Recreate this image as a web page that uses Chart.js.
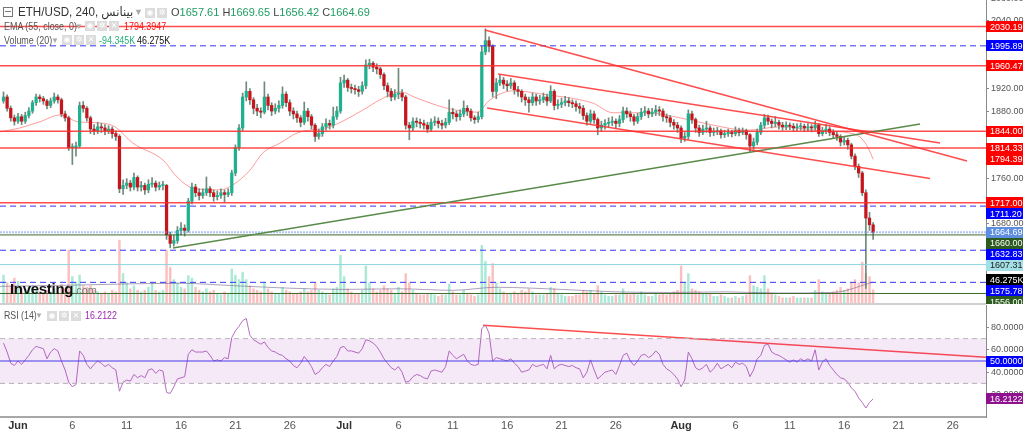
<!DOCTYPE html>
<html><head><meta charset="utf-8">
<script src="https://cdn.jsdelivr.net/npm/chart.js@4.4.0/dist/chart.umd.min.js"></script>
<style>
html,body{margin:0;padding:0;background:#fff;}
#wrap{position:relative;width:1024px;height:431px;overflow:hidden;font-family:"Liberation Sans",Arial,"DejaVu Sans",sans-serif;}
.sep{position:absolute;left:0;width:986px;top:303px;height:2px;background:#cfcfcf;}
.t{position:absolute;white-space:nowrap;line-height:1;transform-origin:0 0;}
.n9{transform:scaleX(0.85);}
.n85{transform:scaleX(0.8);}
.ic{position:absolute;width:10px;height:10px;background:#dcdcdc;color:#fff;font-size:8px;text-align:center;line-height:10px;font-family:"DejaVu Sans",sans-serif;}
.k{color:#444}.g{color:#1f9d63}
</style></head>
<body>
<div id="wrap">
<canvas id="cMain" width="1024" height="304" style="position:absolute;left:0;top:0"></canvas>
<canvas id="cRsi" width="1024" height="126" style="position:absolute;left:0;top:305px"></canvas>
<div class="sep"></div>

<div class="t" style="left:3px;top:7px;width:8px;height:8px;border:1px solid #777;"></div>
<div class="t" style="left:5px;top:11px;width:6px;height:1px;background:#777;"></div>
<div class="t" style="left:18px;top:6px;font-size:12.5px;color:#333;transform:scaleX(0.93);" dir="ltr">ETH/USD, 240, بينانس</div>
<div class="t" style="left:134px;top:8px;font-size:9px;color:#aaa;">▼</div>
<div class="ic" style="left:145px;top:8px;">◉</div>
<div class="ic" style="left:157px;top:8px;">✲</div>
<div class="t" style="left:171px;top:7px;font-size:11px;"><span class="k">O</span><span class="g">1657.61</span>&nbsp;<span class="k">H</span><span class="g">1669.65</span>&nbsp;<span class="k">L</span><span class="g">1656.42</span>&nbsp;<span class="k">C</span><span class="g">1664.69</span></div>

<div class="t n9" style="left:4px;top:21px;font-size:10.5px;color:#555;">EMA (55, close, 0)</div>
<div class="t" style="left:75px;top:23px;font-size:8px;color:#aaa;">▼</div>
<div class="ic" style="left:85px;top:21px;">◉</div>
<div class="ic" style="left:97px;top:21px;">✲</div>
<div class="ic" style="left:109px;top:21px;">✕</div>
<div class="t n9" style="left:124px;top:21px;font-size:10.5px;color:#ff1010;">1794.3947</div>

<div class="t n9" style="left:4px;top:35px;font-size:10.5px;color:#555;">Volume (20)</div>
<div class="t" style="left:51px;top:37px;font-size:8px;color:#aaa;">▼</div>
<div class="ic" style="left:62px;top:35px;">◉</div>
<div class="ic" style="left:74px;top:35px;">✲</div>
<div class="ic" style="left:86px;top:35px;">✕</div>
<div class="t n9" style="left:99px;top:35px;font-size:10.5px;color:#26b07a;">-94.345K</div>
<div class="t n9" style="left:137px;top:35px;font-size:10.5px;color:#111;">46.275K</div>

<div class="t" style="left:10px;top:281px;font-size:15px;font-weight:bold;color:#111;letter-spacing:-0.3px;">Investing<span style="font-size:11px;font-weight:normal;color:#777;letter-spacing:0;">.com</span></div>

<div class="t n85" style="left:4px;top:310px;font-size:11px;color:#555;">RSI (14)</div>
<div class="t" style="left:35px;top:312px;font-size:8px;color:#aaa;">▼</div>
<div class="ic" style="left:47px;top:311px;">◉</div>
<div class="ic" style="left:59px;top:311px;">✲</div>
<div class="ic" style="left:71px;top:311px;">✕</div>
<div class="t n85" style="left:85px;top:310px;font-size:11px;color:#9c27b0;">16.2122</div>
</div>

<script>
// ---- DATA (8-hour candles, day 0 = 1 Jun) ----
const startDay = -4/3;
const stepDay = 1/3;
const firstOpen = 1898;
const closes = [
1905,1885,1868,1862,1870,1862,1872,1880,1895,1905,
1902,1898,1890,1898,1905,1900,1875,1868,1815,1815,
1818,1890,1885,1868,1848,1845,1852,1850,1845,1848,
1840,1835,1742,1748,1752,1745,1762,1745,1748,1740,
1750,1752,1745,1748,1748,1660,1645,1650,1668,1672,
1668,1720,1745,1735,1730,1735,1742,1735,1728,1730,
1735,1732,1735,1770,1815,1850,1905,1915,1900,1885,
1880,1878,1905,1890,1880,1885,1890,1910,1895,1880,
1875,1868,1860,1880,1870,1855,1835,1840,1852,1858,
1855,1870,1880,1930,1935,1922,1920,1918,1915,1925,
1962,1965,1958,1955,1945,1925,1915,1905,1910,1912,
1905,1855,1850,1862,1860,1858,1855,1848,1860,1862,
1858,1855,1860,1878,1875,1870,1875,1885,1880,1868,
1865,1870,1985,2005,1995,1915,1930,1935,1928,1925,
1930,1918,1915,1905,1900,1895,1905,1898,1900,1905,
1898,1915,1890,1892,1895,1898,1895,1893,1888,1885,
1872,1862,1875,1865,1850,1855,1858,1860,1862,1858,
1865,1880,1875,1870,1862,1870,1878,1880,1875,1878,
1882,1880,1870,1868,1860,1855,1850,1832,1835,1875,
1865,1850,1842,1848,1850,1842,1843,1845,1838,1840,
1842,1840,1845,1842,1845,1838,1818,1825,1842,1855,
1868,1862,1858,1860,1855,1852,1855,1853,1850,1852,
1853,1850,1852,1850,1855,1840,1845,1848,1842,1838,
1835,1825,1828,1820,1800,1782,1770,1735,1690,1678,
1664.69];
const highs = [
1914,1909,1889,1873,1876,1874,1878,1886,1899,1910,
1909,1906,1901,1903,1912,1909,1903,1880,1871,1822,
1825,1896,1897,1888,1871,1856,1860,1858,1856,1854,
1852,1845,1838,1758,1760,1757,1770,1765,1755,1752,
1758,1762,1756,1754,1755,1750,1665,1660,1675,1682,
1678,1725,1752,1750,1742,1742,1763,1746,1740,1738,
1742,1740,1742,1775,1820,1856,1912,1932,1920,1904,
1892,1886,1932,1910,1895,1893,1898,1923,1914,1900,
1886,1880,1872,1896,1885,1874,1858,1848,1858,1866,
1864,1887,1888,1940,1944,1938,1928,1926,1924,1932,
1971,1972,1968,1964,1958,1948,1930,1920,1918,1956,
1918,1908,1860,1868,1868,1866,1864,1860,1866,1870,
1868,1864,1867,1900,1885,1880,1882,1898,1890,1884,
1872,1878,1995,2026,2012,1998,1938,1944,1940,1934,
1938,1934,1924,1918,1910,1905,1912,1910,1908,1912,
1910,1925,1918,1900,1903,1906,1904,1900,1898,1894,
1890,1877,1882,1880,1868,1862,1865,1868,1870,1866,
1872,1887,1886,1880,1874,1876,1885,1888,1885,1885,
1890,1888,1884,1875,1872,1865,1860,1854,1842,1882,
1880,1868,1855,1855,1862,1854,1850,1851,1848,1846,
1848,1846,1852,1850,1850,1848,1840,1832,1848,1860,
1874,1873,1866,1870,1864,1860,1861,1859,1858,1858,
1859,1857,1858,1856,1862,1858,1851,1856,1852,1847,
1843,1838,1834,1832,1823,1804,1786,1773,1740,1700,
1682];
const lows = [
1894,1880,1862,1855,1858,1856,1858,1868,1876,1890,
1896,1892,1884,1886,1894,1894,1870,1862,1810,1785,
1800,1815,1878,1862,1840,1838,1840,1842,1838,1840,
1832,1828,1735,1732,1742,1738,1740,1738,1738,1732,
1735,1745,1738,1740,1740,1652,1637,1640,1645,1660,
1658,1665,1715,1728,1722,1725,1730,1728,1720,1722,
1725,1718,1728,1730,1765,1810,1845,1898,1892,1875,
1872,1868,1875,1882,1872,1875,1878,1885,1888,1872,
1866,1860,1852,1856,1862,1848,1826,1830,1835,1846,
1848,1850,1865,1876,1922,1915,1912,1910,1906,1910,
1920,1955,1950,1946,1938,1918,1905,1898,1900,1902,
1898,1848,1829,1845,1852,1850,1848,1842,1844,1854,
1850,1848,1850,1856,1866,1862,1864,1870,1872,1862,
1858,1860,1866,1980,1985,1905,1902,1925,1920,1916,
1920,1910,1906,1896,1890,1878,1890,1890,1892,1895,
1890,1895,1882,1884,1886,1889,1888,1886,1880,1876,
1865,1855,1858,1858,1838,1844,1848,1852,1854,1850,
1852,1860,1868,1862,1855,1858,1865,1872,1868,1870,
1872,1872,1862,1860,1852,1848,1842,1824,1826,1830,
1858,1842,1835,1838,1842,1835,1836,1838,1832,1833,
1835,1834,1836,1836,1838,1830,1808,1812,1820,1838,
1850,1856,1850,1852,1848,1846,1847,1847,1844,1845,
1846,1844,1845,1843,1846,1835,1836,1840,1836,1832,
1828,1818,1820,1812,1795,1776,1762,1730,1565,1668,
1652];
const volumes = [
95,70,60,85,75,50,45,55,60,45,
40,35,45,40,50,40,65,50,177,90,
70,95,60,55,60,45,40,35,40,35,
45,40,210,100,70,50,60,45,40,45,
55,70,45,40,45,177,120,80,70,55,
50,93,85,55,45,40,50,40,45,35,
30,40,35,115,95,80,105,80,60,50,
45,40,70,50,40,35,35,55,45,40,
35,35,40,50,40,45,70,45,40,35,
30,50,55,160,90,50,40,35,35,45,
125,70,50,40,45,60,50,45,35,55,
40,100,70,45,35,30,30,35,35,30,
25,30,30,65,40,30,30,45,35,30,
25,30,193,140,90,133,70,50,40,35,
35,40,35,45,40,50,40,30,30,30,
35,55,50,35,30,25,25,25,30,30,
45,40,45,35,60,40,30,25,25,30,
30,50,35,30,35,30,40,30,25,25,
35,30,35,30,35,40,45,125,70,100,
50,45,40,35,35,35,25,25,30,25,
20,20,25,20,25,30,93,60,55,50,
93,50,35,30,25,20,20,20,25,20,
20,20,20,20,45,80,40,35,35,40,
45,55,45,50,70,80,70,137,100,90,
46.275];
const rsiValues = [
66,58,48,46,50,47,51,55,60,63,
62,61,52,58,61,59,50,42,31,27,
29,59,55,47,43,47,50,48,45,47,
44,42,23,31,33,32,38,35,37,35,
42,43,39,42,41,22,21,27,34,35,
36,56,60,58,58,58,59,55,50,51,
50,53,52,71,77,81,86,88,73,69,
67,65,67,62,59,58,56,55,52,50,
46,44,48,54,50,45,38,40,44,47,
45,50,54,62,63,59,59,58,57,61,
69,68,66,63,58,52,48,44,42,45,
40,31,32,36,38,37,35,34,41,42,
41,40,45,59,55,52,54,56,50,47,
46,47,79,82,75,50,53,52,51,50,
52,48,45,40,41,42,47,45,46,47,
43,55,43,46,47,46,45,46,44,43,
35,40,51,42,34,37,40,41,42,38,
46,55,57,50,46,50,55,56,53,55,
59,56,47,43,41,38,34,27,33,58,
52,44,42,44,47,40,43,48,43,45,
47,44,49,47,48,45,36,42,52,55,
64,65,58,56,55,53,51,49,51,49,
52,50,52,50,60,42,49,52,46,42,
38,35,34,31,26,23,17,13,8,13,
16.2122];
// EMA(55) read at points [day, price]
const emaPoints = [[-1.66,1843],[0.18,1850],[2.02,1861],[3.86,1873],[5.52,1861],[7.54,1859],[8.92,1852],[10.58,1823],[13.34,1793],[14.63,1763],[16.1,1743],[18.58,1740],[19.78,1749],[21.34,1775],[22.54,1806],[24.1,1823],[25.67,1841],[28.7,1852],[31.74,1882],[33.3,1900],[35.14,1914],[36.7,1903],[39.47,1885],[42.23,1878],[43.42,1900],[45.54,1916],[48.67,1909],[51.7,1900],[52.9,1894],[54.74,1877],[57.87,1877],[60.9,1868],[63.94,1855],[67.07,1846],[70.1,1852],[73.8,1845],[76.5,1841],[77.46,1834],[78.2,1815],[78.67,1794.39]];
const volMaPoints = [[-1.66,58],[5,62],[10,66],[15,68],[20,60],[25,52],[30,48],[35,50],[40,45],[44,55],[50,48],[55,40],[60,38],[65,40],[70,36],[75,38],[78.67,72]];
// drawings
const redLevels = [2030.19, 1960.47, 1844.00, 1814.33, 1717.00];
const blueLevels = [1995.89, 1711.20, 1632.83, 1575.78];
const greenLevels = [1660.00, 1556.00];
const cyanLevel = 1607.31;
const emaLast = 1794.39;
const trendRed = [[[42.96,2024],[87.3,1791.4]], [[44.16,1945.9],[84.82,1823.3]], [[43.15,1885.5],[83.9,1760.4]]];
const trendGreen = [[14.26,1636.8],[82.98,1857]];
const rsiTrend = [[42.78,81.9],[89.05,53.3]];
const rsiBand = [30, 70];
const rsiMid = 50;
// axes
const X_MIN = -1.656, X_MAX = 89.05;
const PRICE_MIN = 1537.3, PRICE_MAX = 2077.3;
const priceTicks = [2080, 2040, 1920, 1880, 1760, 1680];
const rsiTicks = [20, 40, 60, 80];
const tickDays = [0,5,10,15,20,25,30,35,40,45,50,55,61,66,71,76,81,86];
const tickLabels = ["Jun","6","11","16","21","26","Jul","6","11","16","21","26","Aug","6","11","16","21","26"];
const lastVolume = 46.275;

// ---- derived ----
const FONT = '"Liberation Sans", Arial, sans-serif';
const days = closes.map((_, i) => startDay + i * stepDay);
const opens = closes.map((c, i) => i ? closes[i-1] : firstOpen);
const isUp = closes.map((c, i) => c >= opens[i]);
const pts = a => a.map(p => ({x: p[0], y: p[1]}));
const hline = v => [{x: X_MIN, y: v}, {x: X_MAX, y: v}];

function makeLabelPlugin(id, labelItems) {
  return {
    id,
    afterDraw(chart) {
      const ctx = chart.ctx, h = 11, left = chart.chartArea.right;
      const items = labelItems.map(it => Object.assign({}, it, {raw: chart.scales[it.axis].getPixelForValue(it.value) + (it.shift || 0)}));
      items.sort((a, b) => a.raw - b.raw);
      let prev = -1e9;
      items.forEach(it => { it.y = Math.max(it.raw, prev + h); prev = it.y; });
      ctx.save();
      ctx.font = '9px ' + FONT;
      ctx.textBaseline = 'middle';
      ctx.textAlign = 'left';
      items.forEach(it => {
        ctx.fillStyle = it.bg;
        ctx.fillRect(left, Math.round(it.y - h / 2), 37, h);
        ctx.fillStyle = it.fg || '#fff';
        ctx.fillText(it.text, left + 4, Math.round(it.y) + 0.5);
      });
      ctx.restore();
    }
  };
}

const RED = 'rgba(255,45,45,0.85)';
const lineDs = (data, color, width, dash, order, axis) => ({type: 'line', data, borderColor: color, borderWidth: width, borderDash: dash || [], pointRadius: 0, fill: false, yAxisID: axis || 'y', order: order || 5, tension: 0});

const mainDatasets = [
  {type: 'bar', data: days.map((d, i) => ({x: d, y: volumes[i]})), yAxisID: 'yv',
   backgroundColor: isUp.map(u => u ? 'rgba(40,200,150,0.4)' : 'rgba(245,95,95,0.4)'),
   barThickness: 1.8, grouped: false, order: 20},
  Object.assign(lineDs(pts(volMaPoints), 'rgba(120,100,140,0.6)', 1, null, 19, 'yv'), {cubicInterpolationMode: 'monotone'}),
  Object.assign(lineDs(pts(emaPoints), 'rgba(255,90,90,0.6)', 1, null, 15), {cubicInterpolationMode: 'monotone'}),
  {type: 'bar', data: days.map((d, i) => ({x: d, y: [lows[i], highs[i]]})), yAxisID: 'y',
   backgroundColor: '#6f8a7a', barThickness: 1, grouped: false, order: 12},
  {type: 'bar', data: days.map((d, i) => ({x: d, y: [opens[i], closes[i]]})), yAxisID: 'y',
   backgroundColor: isUp.map(u => u ? '#1fb08e' : '#c4161c'), barThickness: 2.6, minBarLength: 1, grouped: false, order: 11},
];
redLevels.forEach(v => mainDatasets.push(lineDs(hline(v), RED, 1.5, null, 5)));
blueLevels.forEach(v => mainDatasets.push(lineDs(hline(v), '#3535f0', 1, [6, 4], 5)));
greenLevels.forEach(v => mainDatasets.push(lineDs(hline(v), '#3d6b2c', 1, null, 5)));
mainDatasets.push(lineDs(hline(cyanLevel), '#8fd4dd', 1, null, 5));
mainDatasets.push(lineDs(hline(closes[closes.length - 1]), 'rgba(110,150,235,0.55)', 2, [2, 1], 5));
trendRed.forEach(t => mainDatasets.push(lineDs(pts(t), RED, 1.5, null, 4)));
mainDatasets.push(lineDs(pts(trendGreen), '#5a8a4a', 1.5, null, 4));

const RED_BOX = '#ff0000', BLUE_BOX = '#0000ff', GREEN_BOX = '#2d5a1e';
const mainLabels = [
  ...redLevels.map(v => ({axis: 'y', value: v, text: v.toFixed(2), bg: RED_BOX})),
  ...blueLevels.map(v => ({axis: 'y', value: v, text: v.toFixed(2), bg: BLUE_BOX})),
  ...greenLevels.map(v => ({axis: 'y', value: v, text: v.toFixed(2), bg: GREEN_BOX})),
  {axis: 'y', value: cyanLevel, text: cyanLevel.toFixed(2), bg: '#a3dfe6', fg: '#222'},
  {axis: 'y', value: emaLast, text: emaLast.toFixed(2), bg: RED_BOX},
  {axis: 'y', value: closes[closes.length - 1], text: closes[closes.length - 1].toFixed(2), bg: '#5d8ee0'},
  {axis: 'yv', value: lastVolume, text: lastVolume.toFixed(3) + 'K', bg: '#000', shift: -10}
];
const rsiLabels = [
  {axis: 'y', value: rsiMid, text: rsiMid.toFixed(4), bg: BLUE_BOX},
  {axis: 'y', value: rsiValues[rsiValues.length - 1], text: rsiValues[rsiValues.length - 1].toFixed(4), bg: '#8e118e'}
];

const noPad = s => { s.paddingTop = 0; s.paddingBottom = 0; s.paddingLeft = 0; s.paddingRight = 0; };

new Chart(document.getElementById('cMain'), {
  type: 'bar',
  data: {datasets: mainDatasets},
  options: {
    responsive: false, animation: false, events: [],
    layout: {padding: 0},
    plugins: {legend: {display: false}, tooltip: {enabled: false}},
    scales: {
      x: {type: 'linear', min: X_MIN, max: X_MAX, display: false, offset: false},
      y: {position: 'right', min: PRICE_MIN, max: PRICE_MAX,
          afterFit: s => { s.width = 38; noPad(s); },
          afterBuildTicks: s => { s.ticks = priceTicks.map(v => ({value: v})); },
          ticks: {color: '#555', font: {size: 9, family: FONT}, padding: 2, callback: v => Number(v).toFixed(2)},
          grid: {drawOnChartArea: false, drawTicks: true, tickLength: 3, color: '#888'},
          border: {display: true, color: '#8a8a8a'}},
      yv: {display: false, min: 0, max: 1000}
    }
  },
  plugins: [makeLabelPlugin('mainLabels', mainLabels)]
});

new Chart(document.getElementById('cRsi'), {
  type: 'line',
  data: {datasets: [
    {data: hline(rsiBand[1]), borderColor: '#b8b8b8', borderWidth: 1, borderDash: [5, 4], pointRadius: 0, fill: '+1', backgroundColor: 'rgba(156,39,176,0.10)'},
    {data: hline(rsiBand[0]), borderColor: '#b8b8b8', borderWidth: 1, borderDash: [5, 4], pointRadius: 0, fill: false},
    {data: hline(rsiMid), borderColor: '#3b3bf2', borderWidth: 1, pointRadius: 0, fill: false},
    {data: days.map((d, i) => ({x: d, y: rsiValues[i]})), borderColor: '#b46ec0', borderWidth: 1, pointRadius: 0, fill: false, tension: 0},
    {data: pts(rsiTrend), borderColor: 'rgba(255,45,45,0.85)', borderWidth: 1.5, pointRadius: 0, fill: false}
  ]},
  options: {
    responsive: false, animation: false, events: [],
    layout: {padding: 0},
    plugins: {legend: {display: false}, tooltip: {enabled: false}},
    scales: {
      x: {type: 'linear', min: X_MIN, max: X_MAX, offset: false,
          afterBuildTicks: s => { s.ticks = tickDays.map(v => ({value: v})); },
          afterFit: s => { s.height = 14; noPad(s); },
          ticks: {autoSkip: false, maxRotation: 0, padding: 2,
                  color: c => (['Jun','Jul','Aug'].includes(tickLabels[c.index]) ? '#333' : '#555'),
                  font: c => ({size: 11, family: FONT, weight: ['Jun','Jul','Aug'].includes(tickLabels[c.index]) ? 'bold' : 'normal'}),
                  callback: (v, i) => tickLabels[i]},
          grid: {drawOnChartArea: false, drawTicks: false},
          border: {display: true, color: '#a8a8a8', width: 2}},
      y: {position: 'right', min: 0, max: 100,
          afterFit: s => { s.width = 38; noPad(s); },
          afterBuildTicks: s => { s.ticks = rsiTicks.map(v => ({value: v})); },
          ticks: {color: '#555', font: {size: 9, family: FONT}, padding: 2, callback: v => Number(v).toFixed(4)},
          grid: {drawOnChartArea: false, drawTicks: true, tickLength: 3, color: '#888'},
          border: {display: true, color: '#8a8a8a'}}
    }
  },
  plugins: [makeLabelPlugin('rsiLabels', rsiLabels)]
});
</script>
</body></html>
